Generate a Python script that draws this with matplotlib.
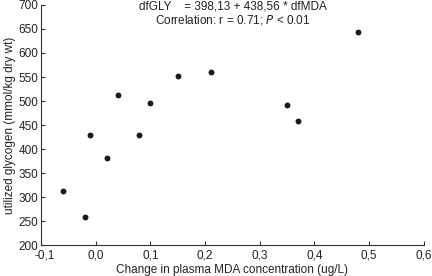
import matplotlib
matplotlib.use("Agg")
import matplotlib.pyplot as plt
import matplotlib.transforms as mtransforms

mda_change = [-0.06, -0.02, 0.02, -0.01, 0.04, 0.08, 0.10, 0.15, 0.21, 0.35, 0.37, 0.48]
glycogen = [313, 258, 382, 430, 513, 430, 496, 553, 560, 491, 458, 644]
x_ticks = [-0.1, 0.0, 0.1, 0.2, 0.3, 0.4, 0.5, 0.6]
x_tick_labels = ["-0,1", "0,0", "0,1", "0,2", "0,3", "0,4", "0,5", "0,6"]
y_ticks = [200, 250, 300, 350, 400, 450, 500, 550, 600, 650, 700]

plt.rcParams['font.family'] = ['Liberation Sans', 'DejaVu Sans']
fs = 8.5
fig = plt.figure(figsize=(4.32, 2.76), dpi=100)
ax = fig.add_axes([0.095, 0.112, 0.886, 0.870])
ax.scatter(mda_change, glycogen, s=18, color='#1a1a1a', zorder=3, linewidths=0)
ax.set_xlim(-0.1, 0.6)
ax.set_ylim(200, 700)
ax.set_xticks(x_ticks)
ax.set_xticklabels(x_tick_labels)
ax.set_yticks(y_ticks)
for s in ['top', 'right']:
    ax.spines[s].set_visible(False)
for s in ['left', 'bottom']:
    ax.spines[s].set_color('#333333')
    ax.spines[s].set_linewidth(0.8)
ax.tick_params(direction='in', length=3, width=0.8, colors='#333333', labelsize=fs, labelcolor='#222222', pad=2)
ax.tick_params(axis='x', pad=3)
first = ax.get_xticklabels()[0]
first.set_transform(first.get_transform() + mtransforms.ScaledTranslation(4/100, 0, fig.dpi_scale_trans))
ax.set_xlabel("Change in plasma MDA concentration (ug/L)", fontsize=fs, color='#222222', labelpad=2)
ax.set_ylabel("utilized glycogen (mmol/kg dry wt)", fontsize=fs, color='#222222', labelpad=2)
fig.text(0.539, 0.975, "dfGLY    = 398,13 + 438,56 * dfMDA", ha='center', va='center', fontsize=fs, color='#222222')
fig.text(0.539, 0.926, "Correlation: r = 0.71; $\\mathit{P}$ < 0.01", ha='center', va='center', fontsize=fs, color='#222222')
fig.savefig("out.png", dpi=100)
